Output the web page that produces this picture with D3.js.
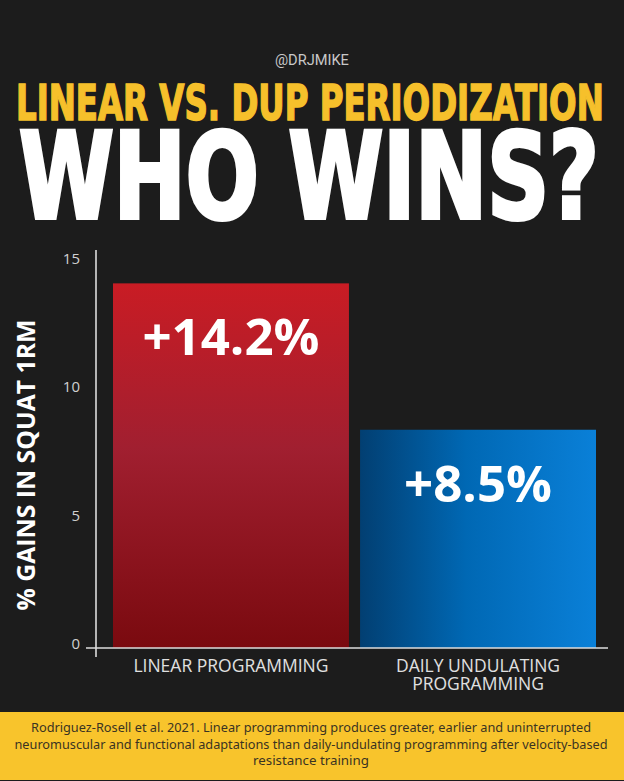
<!DOCTYPE html>
<html>
<head>
<meta charset="utf-8">
<script src="https://cdn.jsdelivr.net/npm/d3@7"></script>
<style>
  html, body { margin: 0; padding: 0; background: #1c1c1c; }
  svg { display: block; }
</style>
</head>
<body>
<div id="chart"></div>
<script>
// ---- data ----
const handle = "@DRJMIKE";
const titleLine1 = "LINEAR VS. DUP PERIODIZATION";
const titleLine2 = "WHO WINS?";
const categories = ["LINEAR PROGRAMMING", "DAILY UNDULATING\nPROGRAMMING"];
const values = [14.2, 8.5];
const valueLabels = ["+14.2%", "+8.5%"];
const yTicks = [0, 5, 10, 15];
const yTitle = "% GAINS IN SQUAT 1RM";
const footerLines = [
  "Rodriguez-Rosell et al. 2021. Linear programming produces greater, earlier and uninterrupted",
  "neuromuscular and functional adaptations than daily-undulating programming after velocity-based",
  "resistance training"
];

// ---- layout ----
const W = 624, H = 781;
const svg = d3.select("#chart").append("svg").attr("width", W).attr("height", H);
svg.append("rect").attr("width", W).attr("height", H).attr("fill", "#1c1c1c");

const defs = svg.append("defs");
const gRed = defs.append("linearGradient").attr("id", "gradRed")
  .attr("x1", 0).attr("y1", 0).attr("x2", 0).attr("y2", 1);
gRed.append("stop").attr("offset", "0%").attr("stop-color", "#c91c24");
gRed.append("stop").attr("offset", "45%").attr("stop-color", "#a11f30");
gRed.append("stop").attr("offset", "100%").attr("stop-color", "#7a0a0f");
const gBlue = defs.append("linearGradient").attr("id", "gradBlue")
  .attr("x1", 0).attr("y1", 0).attr("x2", 1).attr("y2", 0);
gBlue.append("stop").attr("offset", "0%").attr("stop-color", "#023f72");
gBlue.append("stop").attr("offset", "45%").attr("stop-color", "#0068b4");
gBlue.append("stop").attr("offset", "100%").attr("stop-color", "#0a80d8");
const fills = ["url(#gradRed)", "url(#gradBlue)"];

const condensed = "'Liberation Sans Narrow', 'DejaVu Sans Condensed', 'Roboto Condensed', 'Arial Narrow', sans-serif";

// fit a text horizontally into [x0, x0+width] by scaling it, baseline at yb
function fitText(sel, x0, yb, width) {
  const w = sel.node().getComputedTextLength();
  sel.attr("x", 0).attr("y", 0).attr("text-anchor", "start")
    .attr("transform", `translate(${x0},${yb}) scale(${width / w},1)`);
}

// header
const h = svg.append("text")
  .attr("font-family", "Roboto, 'Liberation Sans', sans-serif").attr("font-size", 14)
  .attr("fill", "#c8c8c8").text(handle);
fitText(h, 275, 65, 74);

const t1 = svg.append("text")
  .attr("font-family", condensed).attr("font-weight", "bold").attr("font-size", 49)
  .attr("font-stretch", "condensed")
  .attr("fill", "#f6c02b").attr("stroke", "#f6c02b").attr("stroke-width", 1.5)
  .text(titleLine1);
fitText(t1, 16, 120, 588);

const t2 = svg.append("text")
  .attr("font-family", condensed).attr("font-weight", "bold").attr("font-size", 119)
  .attr("font-stretch", "condensed")
  .attr("fill", "#ffffff").attr("stroke", "#ffffff").attr("stroke-width", 4)
  .attr("stroke-linejoin", "miter")
  .text(titleLine2);
fitText(t2, 19, 218, 580);

// chart scales
const x = d3.scaleBand().domain(categories).range([113, 596]).paddingInner(0.045).paddingOuter(0);
const y = d3.scaleLinear().domain([0, 15.5]).range([648, 250]);

const chartFont = "'Open Sans', 'Noto Sans', sans-serif";

// bars
svg.append("g").selectAll("rect").data(values).join("rect")
  .attr("x", (d, i) => x(categories[i]))
  .attr("y", d => y(d))
  .attr("width", x.bandwidth())
  .attr("height", d => y(0) - y(d))
  .attr("fill", (d, i) => fills[i]);

// value labels
svg.append("g").selectAll("text").data(values).join("text")
  .attr("x", (d, i) => x(categories[i]) + x.bandwidth() / 2)
  .attr("y", d => y(d) + 72)
  .attr("text-anchor", "middle")
  .attr("font-family", chartFont).attr("font-weight", "bold").attr("font-size", 51)
  .attr("fill", "#ffffff")
  .text((d, i) => valueLabels[i]);

// y axis
const yAxis = svg.append("g").attr("transform", "translate(96,0)")
  .call(d3.axisLeft(y).tickValues(yTicks).tickSize(0).tickPadding(16).tickFormat(d3.format("d")));
yAxis.select(".domain").remove();
yAxis.selectAll("text").attr("dy", "0.05em")
  .attr("font-family", chartFont).attr("font-size", 15).attr("fill", "#d0d0d0");
svg.append("line").attr("x1", 96).attr("x2", 96).attr("y1", y(15.5)).attr("y2", y(0) + 9)
  .attr("stroke", "#dcdcdc").attr("stroke-width", 1.6);

// x axis
const xAxis = svg.append("g").attr("transform", `translate(0,${y(0)})`)
  .call(d3.axisBottom(x).tickSize(0).tickFormat(""));
xAxis.select(".domain").remove();
svg.append("line").attr("x1", 86).attr("x2", 608).attr("y1", y(0)).attr("y2", y(0))
  .attr("stroke", "#dcdcdc").attr("stroke-width", 1.6);

const xLabelLines = categories.flatMap(c => c.split("\n").map((line, i) => ({ c, line, i })));
svg.append("g").selectAll("text").data(xLabelLines).join("text")
  .attr("x", d => x(d.c) + x.bandwidth() / 2)
  .attr("y", d => y(0) + 24 + d.i * 18)
  .attr("text-anchor", "middle")
  .attr("font-family", chartFont).attr("font-size", 17.5).attr("fill", "#e0e0e0")
  .text(d => d.line);

// y title
svg.append("text").attr("transform", "translate(35,465) rotate(-90)")
  .attr("text-anchor", "middle")
  .attr("font-family", chartFont).attr("font-weight", "bold").attr("font-size", 25)
  .attr("fill", "#ffffff").attr("textLength", 291).attr("lengthAdjust", "spacingAndGlyphs")
  .text(yTitle);

// footer
svg.append("rect").attr("x", 0).attr("y", 712).attr("width", W).attr("height", 68)
  .attr("fill", "#f8c42c");
const footLens = [560, 593, 116];
svg.append("g").selectAll("text").data(footerLines).join("text")
  .attr("x", 311)
  .attr("y", (d, i) => 732 + i * 16.5)
  .attr("text-anchor", "middle")
  .attr("font-family", "'Noto Sans', 'Open Sans', sans-serif").attr("font-size", 12.5)
  .attr("fill", "#3a3322")
  .attr("textLength", (d, i) => footLens[i]).attr("lengthAdjust", "spacingAndGlyphs")
  .text(d => d);
</script>
</body>
</html>
